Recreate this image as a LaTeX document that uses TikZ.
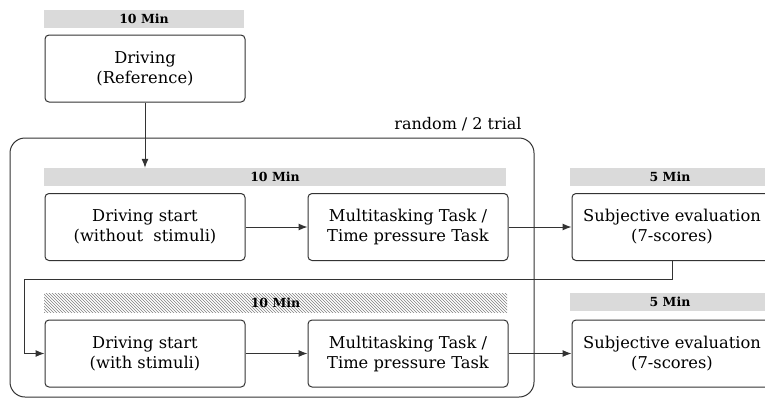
\documentclass[tikz,border=0pt]{standalone}
\usepackage{fontspec}
\setmainfont{DejaVu Serif}
\usetikzlibrary{arrows.meta,patterns}
\definecolor{barg}{HTML}{DADADA}
\definecolor{lineg}{HTML}{333333}
\tikzset{
  stepbox/.style={draw=lineg, line width=1pt, rounded corners=4pt, minimum width=200pt, minimum height=67pt, align=center, font=\fontsize{16.3}{20}\selectfont, inner sep=0pt},
  timebar/.style={fill=barg, draw=none, minimum height=18pt, inner sep=0pt, font=\fontsize{12.5}{14}\selectfont\bfseries},
  hatchbar/.style={pattern=north west lines, pattern color=gray, draw=none, minimum height=19pt, inner sep=0pt, font=\fontsize{12.5}{14}\selectfont\bfseries},
  arr/.style={draw=lineg, line width=1pt, -{Latex[length=9pt,width=7pt]}},
  conn/.style={draw=lineg, line width=1pt}
}
\begin{document}
\begin{tikzpicture}[x=1pt,y=-1pt]
\useasboundingbox (0,0) rectangle (765,400);
\clip (0,0) rectangle (765,400);
% outer frame
\draw[conn, rounded corners=15pt] (10,138) rectangle (534,397);
\node[font=\fontsize{16}{18}\selectfont] (rnd) at (458,124) {random / 2 trial};
% top
\node[timebar, minimum width=200pt] (t0) at (144,19) {10 Min};
\node[stepbox] (ref) at (145,68.5) {Driving\\(Reference)};
% row 1
\node[timebar, minimum width=462pt] (t1) at (275,177) {10 Min};
\node[stepbox] (d1) at (145,227) {Driving start\\(without\ \ stimuli)};
\node[stepbox] (m1) at (408,227) {Multitasking Task /\\Time pressure Task};
\node[timebar, minimum width=200pt] (t2) at (670,177) {5 Min};
\node[stepbox] (s1) at (672,227) {Subjective evaluation\\(7-scores)};
% row 2
\node[hatchbar, minimum width=463pt] (t3) at (275.5,302.5) {10 Min};
\node[stepbox] (d2) at (145,353.5) {Driving start\\(with stimuli)};
\node[stepbox] (m2) at (408,353.5) {Multitasking Task /\\Time pressure Task};
\node[timebar, minimum width=200pt] (t4) at (670,301.5) {5 Min};
\node[stepbox] (s2) at (672,353.5) {Subjective evaluation\\(7-scores)};
% connectors
\coordinate (c1) at (24,279);
\draw[arr] (ref.south) -- (ref.south |- t1.north);
\draw[arr] (d1) -- (m1);
\draw[arr] (m1) -- (s1);
\draw[arr] (d2) -- (m2);
\draw[arr] (m2) -- (s2);
\draw[arr] (s1.south) |- (c1) |- (d2.west);
\end{tikzpicture}
\end{document}
